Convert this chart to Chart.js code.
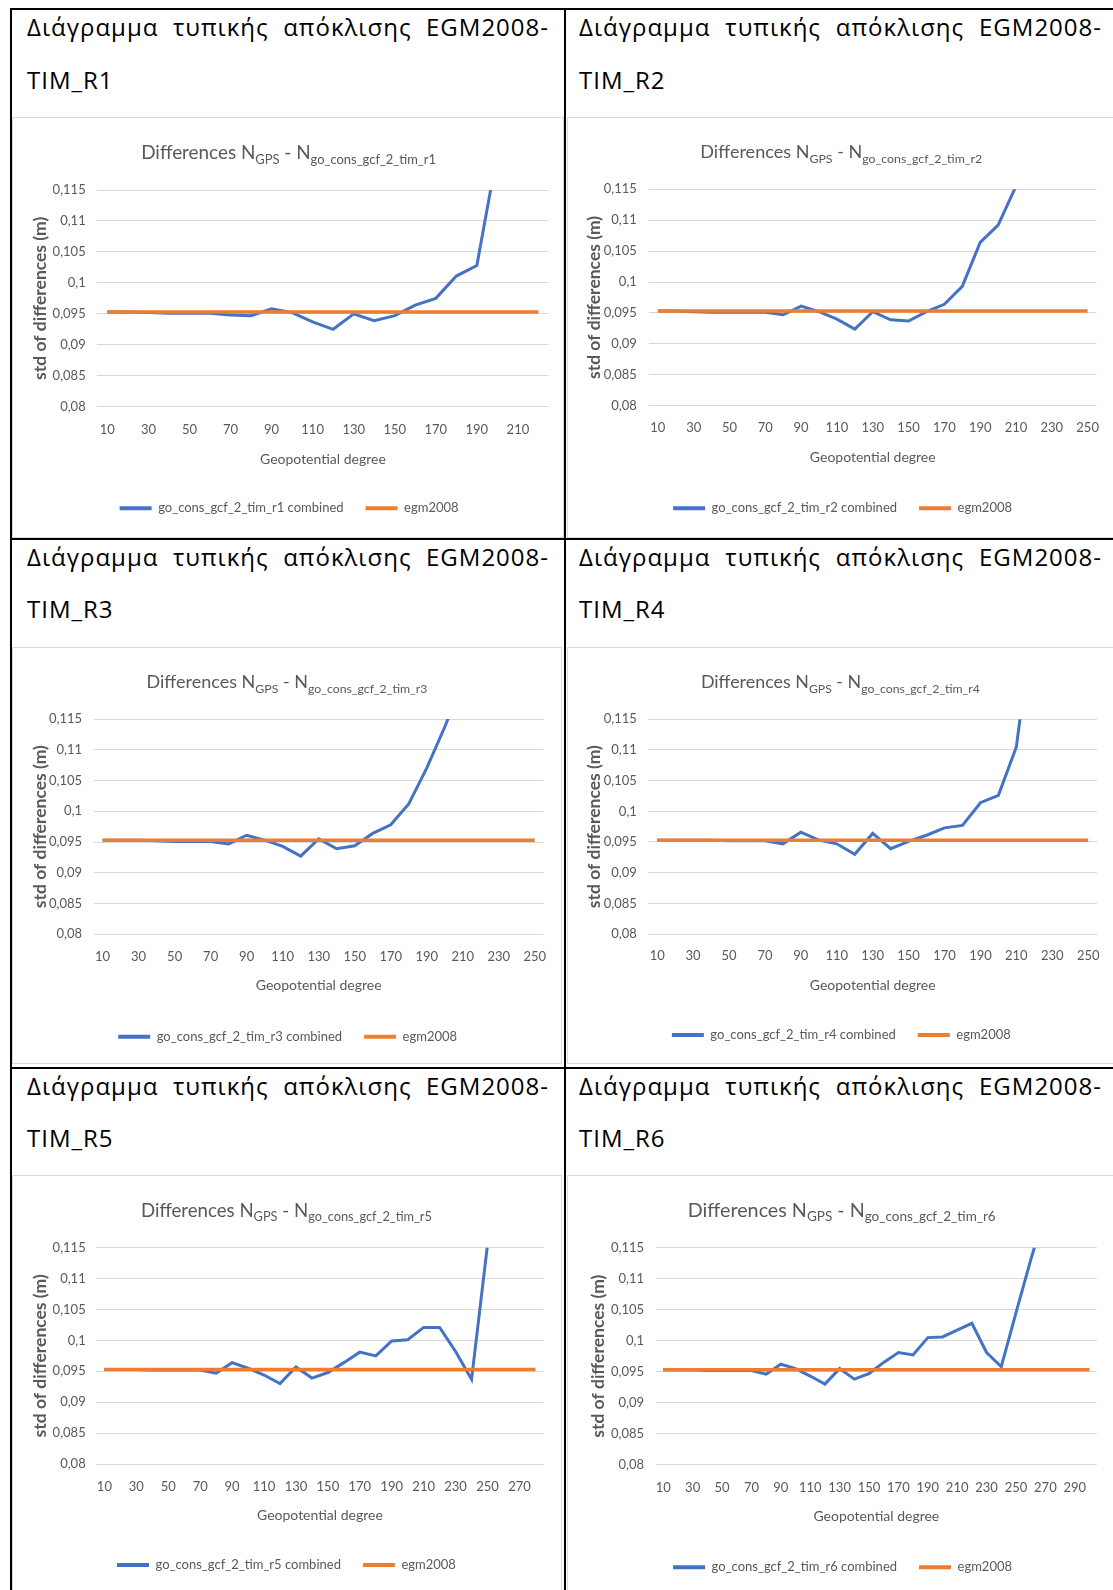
<!DOCTYPE html>
<html lang="el">
<head>
    <meta charset="UTF-8">
    <meta name="viewport" content="width=device-width, initial-scale=1.0">
    <title>Διάγραμμα τυπικής απόκλισης EGM2008-TIM</title>
    <style>
        html, body { margin: 0; padding: 0; background: #fff; overflow: hidden; }
        #page { position: relative; width: 1113px; height: 1590px; overflow: hidden; }
        .rule { position: absolute; background: #000; }
        .head {
            position: absolute;
            font-family: "Open Sans", "Noto Sans", sans-serif;
            font-size: 24px;
            letter-spacing: 1px;
            line-height: 32px;
            color: #000;
            white-space: nowrap;
        }
        .head.just { text-align: justify; text-align-last: justify; }
        .box { position: absolute; border: 1px solid #d9d9d9; box-sizing: border-box; background: #fff; }
        .box canvas { display: block; }
    </style>
</head>
<body>
    <div id="page"></div>

    <script src="https://cdn.jsdelivr.net/npm/chart.js"></script>

    <script>
        // Geopotential degree (category axis)
        const degrees = [10, 20, 30, 40, 50, 60, 70, 80, 90, 100, 110, 120, 130, 140, 150,
                         160, 170, 180, 190, 200, 210, 220, 230, 240, 250, 260, 270, 280, 290, 300];

        // std of differences (m) for each TIM release
        const stdR1 = [0.0953, 0.0953, 0.0952, 0.0951, 0.0951, 0.0951, 0.0948, 0.0947, 0.0958, 0.0952,
                       0.0937, 0.0925, 0.0950, 0.0939, 0.0947, 0.0964, 0.0975, 0.1011, 0.1028, 0.1210,
                       0.1280, 0.1350];
        const stdR2 = [0.0953, 0.0953, 0.0952, 0.0951, 0.0951, 0.0951, 0.0951, 0.0947, 0.0961, 0.0952,
                       0.0940, 0.0924, 0.0952, 0.0939, 0.0937, 0.0952, 0.0964, 0.0993, 0.1064, 0.1092,
                       0.1155, 0.1220, 0.1280, 0.1340, 0.1400];
        const stdR3 = [0.0953, 0.0953, 0.0953, 0.0952, 0.0951, 0.0951, 0.0951, 0.0947, 0.0961, 0.0953,
                       0.0943, 0.0927, 0.0955, 0.0939, 0.0944, 0.0964, 0.0978, 0.1012, 0.1070, 0.1137,
                       0.1210, 0.1280, 0.1340, 0.1400, 0.1460];
        const stdR4 = [0.0953, 0.0953, 0.0953, 0.0953, 0.0952, 0.0952, 0.0952, 0.0947, 0.0966, 0.0953,
                       0.0947, 0.0930, 0.0964, 0.0939, 0.0951, 0.0961, 0.0973, 0.0977, 0.1014, 0.1026,
                       0.1105, 0.1330, 0.1400, 0.1450, 0.1500];
        const stdR5 = [0.0953, 0.0953, 0.0953, 0.0952, 0.0952, 0.0952, 0.0952, 0.0947, 0.0964, 0.0955,
                       0.0944, 0.0930, 0.0957, 0.0939, 0.0948, 0.0964, 0.0981, 0.0975, 0.0999, 0.1001,
                       0.1021, 0.1021, 0.0982, 0.0937, 0.1155, 0.1250, 0.1300, 0.1350];
        const stdR6 = [0.0953, 0.0953, 0.0953, 0.0952, 0.0952, 0.0952, 0.0952, 0.0946, 0.0962, 0.0955,
                       0.0943, 0.0930, 0.0955, 0.0938, 0.0947, 0.0965, 0.0981, 0.0977, 0.1005, 0.1006,
                       0.1017, 0.1028, 0.0981, 0.0958, 0.1045, 0.1130, 0.1210, 0.1280, 0.1340, 0.1400];

        const egm2008 = 0.0953; // reference level, same in every panel

        const yTicks = [0.08, 0.085, 0.09, 0.095, 0.1, 0.105, 0.11, 0.115];

        const models = ['r1', 'r2', 'r3', 'r4', 'r5', 'r6'];
        const series = [stdR1, stdR2, stdR3, stdR4, stdR5, stdR6];
        const cellLabels = ['TIM_R1', 'TIM_R2', 'TIM_R3', 'TIM_R4', 'TIM_R5', 'TIM_R6'];
        const headText = 'Διάγραμμα τυπικής απόκλισης EGM2008-';

        // page geometry (px) of each chart picture inside the table
        const panels = [
            { box: [12, 117, 552, 421], plot: [97.1, 190, 548.7, 406.7], yTitleX: 40, yTickRight: 85.7, xTickY: 430, xTitleY: 459.3, legendY: 508.3, title: [288.7, 159.3, 295] },
            { box: [567, 117, 548, 421], plot: [648.9, 189.3, 1101.4, 405.7], yTitleX: 594.2, yTickRight: 636.9, xTickY: 428.3, xTitleY: 457.3, legendY: 508.3, title: [841.3, 158.3, 282] },
            { box: [12, 647, 550, 417], plot: [93.6, 719, 545.4, 934.3], yTitleX: 40.4, yTickRight: 82.1, xTickY: 956.7, xTitleY: 985, legendY: 1036.7, title: [287, 688.3, 281] },
            { box: [567, 647, 548, 417], plot: [648.2, 719.3, 1098.9, 934], yTitleX: 594.2, yTickRight: 636.9, xTickY: 956, xTitleY: 985, legendY: 1035, title: [840.4, 688.3, 279] },
            { box: [12, 1175, 550, 417], plot: [96.4, 1247.7, 543.4, 1464], yTitleX: 40, yTickRight: 85.7, xTickY: 1486.7, xTitleY: 1515, legendY: 1565, title: [286.5, 1216.7, 291] },
            { box: [567, 1175, 548, 417], plot: [655.9, 1247.7, 1096.8, 1464.7], yTitleX: 598.8, yTickRight: 644, xTickY: 1488.3, xTitleY: 1516.7, legendY: 1567.3, title: [841.7, 1216.7, 308] }
        ];

        // header text baselines per table row, and column x ranges
        const headBase = [[36.5, 89], [566, 618.5], [1095, 1147]];
        const headCols = [{ x: 27, w: 522 }, { x: 579, w: 523 }];

        const BLUE = '#4472C4';
        const ORANGE = '#ED7D31';
        const GREY = '#595959';
        const FONT = 'Lato, "Open Sans", sans-serif';
        const TICK = 13, XTITLE = 14, YTITLE = 17.5, LEG = 13, LEG_PAD = 22;

        Chart.defaults.font.family = FONT;
        Chart.defaults.color = GREY;
        Chart.defaults.animation = false;

        const page = document.getElementById('page');

        function addDiv(cls, css, text) {
            const d = document.createElement('div');
            d.className = cls;
            Object.assign(d.style, css);
            if (text) d.textContent = text;
            page.appendChild(d);
            return d;
        }

        // table borders
        addDiv('rule', { left: '10px', top: '8px', width: '1103px', height: '2px' });
        addDiv('rule', { left: '10px', top: '8px', width: '2px', height: '1582px' });
        addDiv('rule', { left: '564px', top: '8px', width: '2px', height: '1582px' });
        addDiv('rule', { left: '10px', top: '538px', width: '1103px', height: '2px' });
        addDiv('rule', { left: '10px', top: '1067px', width: '1103px', height: '2px' });

        // title with subscripts: Differences N_GPS - N_go_cons_gcf_2_tim_rX
        const subTitle = {
            id: 'subTitle',
            afterDraw(chart, args, o) {
                const ctx = chart.ctx;
                const parts = [
                    { t: 'Differences N', s: 19, dy: 0 },
                    { t: 'GPS', s: 13, dy: 4.5 },
                    { t: ' - N', s: 19, dy: 0 },
                    { t: o.sub, s: 13, dy: 4.5 }
                ];
                ctx.save();
                ctx.fillStyle = GREY;
                ctx.textBaseline = 'alphabetic';
                ctx.textAlign = 'left';
                let total = 0;
                parts.forEach(p => {
                    ctx.font = p.s + 'px ' + FONT;
                    total += ctx.measureText(p.t).width;
                });
                // scale so the title spans the same width as in the picture
                const k = o.width / total;
                let x = o.x - o.width / 2;
                parts.forEach(p => {
                    ctx.font = (p.s * k).toFixed(2) + 'px ' + FONT;
                    ctx.fillText(p.t, x, o.y + p.dy);
                    x += ctx.measureText(p.t).width;
                });
                ctx.restore();
            }
        };

        const fmtTick = v => String(+v.toFixed(3)).replace('.', ',');

        panels.forEach((p, i) => {
            const row = Math.floor(i / 2), col = i % 2;

            // header cell text
            const c = headCols[col];
            addDiv('head just', { left: c.x + 'px', top: (headBase[row][0] - 25.3) + 'px', width: c.w + 'px' }, headText);
            addDiv('head', { left: c.x + 'px', top: (headBase[row][1] - 25.3) + 'px' }, cellLabels[i]);

            // chart picture
            const [bx, by, bw, bh] = p.box;
            const box = addDiv('box', { left: bx + 'px', top: by + 'px', width: bw + 'px', height: bh + 'px' });
            const canvas = document.createElement('canvas');
            const cw = bw - 2, ch = bh - 2;
            canvas.width = cw;
            canvas.height = ch;
            box.appendChild(canvas);
            const cx = bx + 1, cy = by + 1;

            const [pl, pt, pr, pb] = p.plot;
            const padLeft = p.yTitleX - cx - YTITLE * 1.2 / 2;
            const yAxisWidth = pl - cx - padLeft;
            const legendTop = p.legendY - LEG_PAD - LEG / 2;
            const legendBottom = p.legendY + LEG / 2 + 10;
            const xAxisHeight = legendTop - pb;

            const values = series[i];
            const labels = degrees.slice(0, values.length).map(String);

            new Chart(canvas, {
                type: 'line',
                data: {
                    labels: labels,
                    datasets: [{
                        label: 'go_cons_gcf_2_tim_' + models[i] + ' combined',
                        data: values,
                        borderColor: BLUE,
                        backgroundColor: BLUE,
                        borderWidth: 3,
                        pointRadius: 0,
                        tension: 0,
                        clip: 0,
                        order: 2
                    }, {
                        label: 'egm2008',
                        data: [{ x: labels[0], y: egm2008 }, { x: labels[labels.length - 1], y: egm2008 }],
                        borderColor: ORANGE,
                        backgroundColor: ORANGE,
                        borderWidth: 3.5,
                        pointRadius: 0,
                        clip: 0,
                        order: 1
                    }]
                },
                options: {
                    responsive: false,
                    events: [],
                    layout: {
                        padding: {
                            top: pt - cy,
                            left: padLeft,
                            right: cx + cw - pr,
                            bottom: cy + ch - legendBottom
                        }
                    },
                    scales: {
                        x: {
                            type: 'category',
                            offset: true,
                            grid: { display: false, drawTicks: false },
                            border: { display: false },
                            ticks: {
                                autoSkip: false,
                                maxRotation: 0,
                                padding: p.xTickY - pb - TICK * 1.2 / 2,
                                font: { size: TICK },
                                callback: function (val, idx) {
                                    return idx % 2 === 0 ? this.getLabelForValue(val) : '';
                                }
                            },
                            title: {
                                display: true,
                                text: 'Geopotential degree',
                                font: { size: XTITLE },
                                padding: { top: 0, bottom: legendTop - p.xTitleY - XTITLE * 1.2 / 2 }
                            },
                            afterFit: s => { s.height = xAxisHeight; }
                        },
                        y: {
                            min: 0.08,
                            max: 0.115,
                            grid: { color: '#d9d9d9', lineWidth: 1, drawTicks: false },
                            border: { display: false },
                            afterBuildTicks: s => { s.ticks = yTicks.map(v => ({ value: v })); },
                            ticks: {
                                padding: pl - p.yTickRight,
                                font: { size: TICK },
                                callback: v => fmtTick(v)
                            },
                            title: {
                                display: true,
                                text: 'std of differences (m)',
                                font: { size: YTITLE, weight: 'bold' },
                                padding: { top: 0, bottom: 0 }
                            },
                            afterFit: s => { s.width = yAxisWidth; }
                        }
                    },
                    plugins: {
                        legend: {
                            position: 'bottom',
                            labels: {
                                usePointStyle: true,
                                pointStyle: 'line',
                                pointStyleWidth: 32,
                                padding: LEG_PAD,
                                color: GREY,
                                font: { size: LEG },
                                sort: (a, b) => a.datasetIndex - b.datasetIndex,
                                generateLabels: chart => Chart.defaults.plugins.legend.labels
                                    .generateLabels(chart).map(l => Object.assign(l, { lineWidth: 4 }))
                            }
                        },
                        tooltip: { enabled: false },
                        subTitle: { x: p.title[0] - cx, y: p.title[1] - cy, width: p.title[2], sub: 'go_cons_gcf_2_tim_' + models[i] }
                    }
                },
                plugins: [subTitle]
            });
        });
    </script>
</body>
</html>
